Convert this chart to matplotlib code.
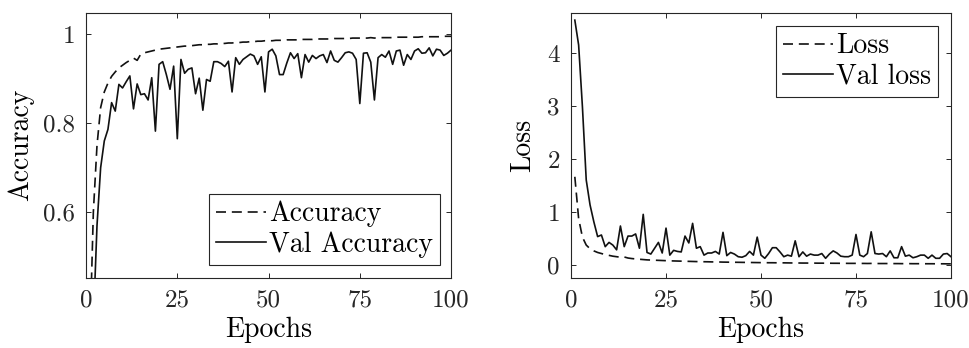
import numpy as np
from matplotlib import pyplot as plt

plt.rcParams['font.family'] = 'cmr10'
plt.rcParams['mathtext.fontset'] = 'cm'
plt.rcParams['axes.formatter.use_mathtext'] = True

epochs = np.arange(1, 101)

acc = [0.30, 0.60, 0.75, 0.835, 0.87, 0.89, 0.905, 0.915, 0.924, 0.930,
       0.936, 0.941, 0.946, 0.941, 0.955, 0.958, 0.960, 0.962, 0.964, 0.966,
       0.967, 0.968, 0.969, 0.970, 0.971, 0.972, 0.973, 0.973, 0.974, 0.975,
       0.976, 0.976, 0.977, 0.977, 0.978, 0.978, 0.979, 0.979, 0.980, 0.980,
       0.981, 0.981, 0.982, 0.982, 0.983, 0.983, 0.984, 0.984, 0.985, 0.985,
       0.985, 0.986, 0.986, 0.986, 0.987, 0.987, 0.987, 0.987, 0.988, 0.988,
       0.988, 0.988, 0.989, 0.989, 0.989, 0.989, 0.989, 0.990, 0.990, 0.990,
       0.990, 0.990, 0.991, 0.991, 0.991, 0.991, 0.991, 0.992, 0.991, 0.992,
       0.992, 0.992, 0.992, 0.992, 0.993, 0.993, 0.993, 0.993, 0.993, 0.993,
       0.993, 0.994, 0.994, 0.994, 0.994, 0.994, 0.994, 0.995, 0.995, 0.995]

val_acc = [0.20, 0.35, 0.57, 0.70, 0.76, 0.786, 0.846, 0.827, 0.887, 0.879,
           0.893, 0.906, 0.832, 0.888, 0.864, 0.866, 0.852, 0.902, 0.782, 0.932,
           0.938, 0.909, 0.876, 0.928, 0.765, 0.943, 0.912, 0.921, 0.924, 0.866,
           0.901, 0.829, 0.898, 0.894, 0.938, 0.938, 0.934, 0.927, 0.939, 0.870,
           0.947, 0.932, 0.943, 0.949, 0.955, 0.951, 0.932, 0.949, 0.870, 0.960,
           0.966, 0.951, 0.909, 0.909, 0.935, 0.958, 0.945, 0.956, 0.902, 0.954,
           0.937, 0.952, 0.945, 0.951, 0.954, 0.936, 0.962, 0.941, 0.937, 0.947,
           0.958, 0.960, 0.957, 0.943, 0.844, 0.957, 0.958, 0.937, 0.852, 0.947,
           0.954, 0.948, 0.962, 0.932, 0.962, 0.964, 0.930, 0.954, 0.943, 0.962,
           0.967, 0.957, 0.958, 0.969, 0.951, 0.966, 0.964, 0.952, 0.957, 0.964]

loss = [1.67, 0.88, 0.53, 0.38, 0.31, 0.27, 0.24, 0.22, 0.20, 0.185,
        0.17, 0.16, 0.15, 0.155, 0.135, 0.125, 0.118, 0.112, 0.106, 0.10,
        0.097, 0.094, 0.091, 0.088, 0.085, 0.082, 0.080, 0.078, 0.076, 0.074,
        0.072, 0.070, 0.068, 0.067, 0.065, 0.064, 0.062, 0.061, 0.060, 0.058,
        0.057, 0.056, 0.055, 0.054, 0.053, 0.052, 0.051, 0.050, 0.049, 0.048,
        0.047, 0.046, 0.046, 0.045, 0.044, 0.044, 0.043, 0.042, 0.042, 0.041,
        0.040, 0.040, 0.039, 0.039, 0.038, 0.038, 0.037, 0.037, 0.036, 0.036,
        0.035, 0.035, 0.034, 0.034, 0.034, 0.033, 0.033, 0.032, 0.033, 0.032,
        0.031, 0.031, 0.031, 0.030, 0.030, 0.030, 0.029, 0.029, 0.029, 0.028,
        0.028, 0.028, 0.027, 0.027, 0.027, 0.026, 0.026, 0.026, 0.025, 0.025]

val_loss = [4.63, 4.16, 2.99, 1.61, 1.14, 0.82, 0.54, 0.57, 0.35, 0.43,
            0.38, 0.29, 0.74, 0.35, 0.55, 0.55, 0.59, 0.32, 0.96, 0.24,
            0.21, 0.32, 0.43, 0.23, 0.70, 0.19, 0.28, 0.26, 0.25, 0.55,
            0.42, 0.79, 0.32, 0.35, 0.19, 0.23, 0.23, 0.26, 0.21, 0.62,
            0.18, 0.24, 0.21, 0.16, 0.15, 0.18, 0.26, 0.19, 0.53, 0.19,
            0.13, 0.22, 0.33, 0.33, 0.25, 0.16, 0.19, 0.17, 0.46, 0.16,
            0.25, 0.17, 0.21, 0.19, 0.19, 0.22, 0.13, 0.21, 0.27, 0.23,
            0.17, 0.16, 0.16, 0.19, 0.58, 0.19, 0.16, 0.22, 0.63, 0.22,
            0.21, 0.22, 0.16, 0.27, 0.14, 0.14, 0.35, 0.17, 0.19, 0.14,
            0.16, 0.19, 0.19, 0.13, 0.19, 0.13, 0.13, 0.21, 0.22, 0.16]

x_ticks = [0, 25, 50, 75, 100]
acc_ticks = [0.6, 0.8, 1.0]
acc_ticklabels = ['0.6', '0.8', '1']
loss_ticks = [0, 1, 2, 3, 4]

fig = plt.figure(figsize=(9.69, 3.48), dpi=100)
ax1 = fig.add_axes([0.0888, 0.2015, 0.3767, 0.762])
ax2 = fig.add_axes([0.5893, 0.2015, 0.3921, 0.762])

dash = (6, 3.5)
ax1.plot(epochs, acc, color='#111111', lw=1.2, dashes=dash, label='Accuracy')
ax1.plot(epochs, val_acc, color='#111111', lw=1.2, label='Val Accuracy')
ax2.plot(epochs, loss, color='#111111', lw=1.2, dashes=dash, label='Loss')
ax2.plot(epochs, val_loss, color='#111111', lw=1.2, label='Val loss')

ax1.set_xlim(0, 100)
ax1.set_ylim(0.4524, 1.048)
ax1.set_yticks(acc_ticks)
ax1.set_yticklabels(acc_ticklabels)
ax1.set_ylabel('Accuracy', fontsize=20, labelpad=6)

ax2.set_xlim(0, 100)
ax2.set_ylim(-0.24, 4.77)
ax2.set_yticks(loss_ticks)
ax2.set_yticklabels([str(t) for t in loss_ticks])
ax2.set_ylabel('Loss', fontsize=20, labelpad=8)

for ax in (ax1, ax2):
    ax.set_xticks(x_ticks)
    ax.set_xticklabels([str(t) for t in x_ticks])
    ax.set_xlabel('Epochs', fontsize=20, labelpad=4)
    ax.tick_params(direction='in', length=3.5, width=0.7, top=True, right=True,
                   labelsize=18, colors='#262626', pad=8)
    for s in ax.spines.values():
        s.set_color('#262626')
        s.set_linewidth(0.8)

leg_kw = dict(fontsize=20, handlelength=1.8, handletextpad=0.1, labelspacing=0.15,
              borderpad=0.25, borderaxespad=0, fancybox=False, framealpha=1,
              edgecolor='#262626')
l1 = ax1.legend(loc='lower right', bbox_to_anchor=(0.97, 0.049), **leg_kw)
l2 = ax2.legend(loc='upper right', bbox_to_anchor=(0.966, 0.95), **leg_kw)
for l in (l1, l2):
    l.get_frame().set_linewidth(0.8)

fig.savefig('out.png', dpi=100)
